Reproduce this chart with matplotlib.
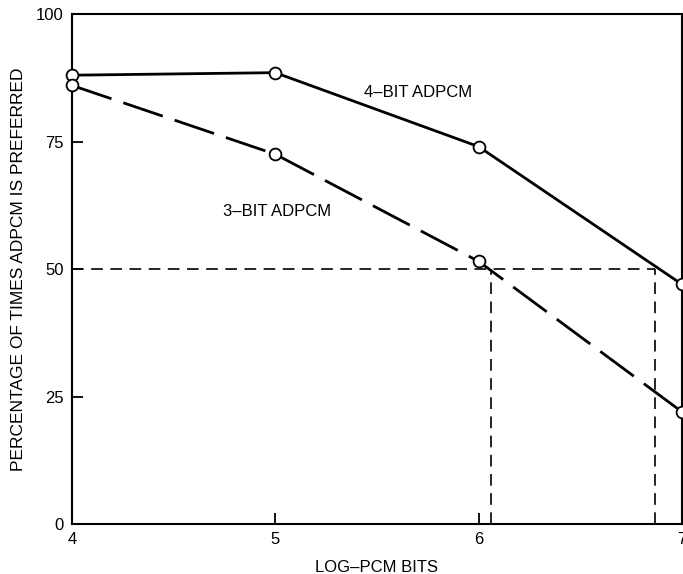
import matplotlib
matplotlib.use("Agg")
import matplotlib.pyplot as plt

bits = [4, 5, 6, 7]
adpcm4 = [88, 88.5, 74, 47]
adpcm3 = [86, 72.5, 51.5, 22]

# 50% crossover points
cross3 = 6.06
cross4 = 6.87
level = 50

plt.rcParams['font.family'] = ['Liberation Sans', 'DejaVu Sans']

fig = plt.figure(figsize=(6.83, 5.74), dpi=100)
ax = fig.add_axes([0.1054, 0.0871, 0.893, 0.8885])

ax.plot(bits, adpcm4, color='black', lw=2, marker='o', ms=8.5,
        mfc='white', mec='black', mew=1.3, zorder=3, clip_on=False)
ax.plot(bits, adpcm3, color='black', lw=2, dashes=(15, 4.5), marker='o', ms=8.5,
        mfc='white', mec='black', mew=1.3, zorder=3, clip_on=False)

# guide lines at 50 percent
ax.plot([4, cross4], [level, level], color='black', lw=1.2, dashes=(7, 4.5))
ax.plot([cross3, cross3], [0, level], color='black', lw=1.2, dashes=(7, 4.5))
ax.plot([cross4, cross4], [0, level], color='black', lw=1.2, dashes=(7, 4.5))

ax.text(5.70, 84.7, '4\u2013BIT ADPCM', fontsize=12, ha='center', va='center')
ax.text(5.01, 61.2, '3\u2013BIT ADPCM', fontsize=12, ha='center', va='center')

ax.set_xlim(4, 7)
ax.set_ylim(0, 100)
ax.set_xticks([4, 5, 6, 7])
ax.set_yticks([0, 25, 50, 75, 100])
ax.tick_params(direction='in', length=8, width=1.3, labelsize=12, pad=6)
for s in ax.spines.values():
    s.set_linewidth(1.5)

ax.set_xlabel('LOG\u2013PCM BITS', fontsize=12, labelpad=9)
ax.set_ylabel('PERCENTAGE OF TIMES ADPCM IS PREFERRED', fontsize=12.5, labelpad=7)

fig.savefig('out.png', dpi=100)
